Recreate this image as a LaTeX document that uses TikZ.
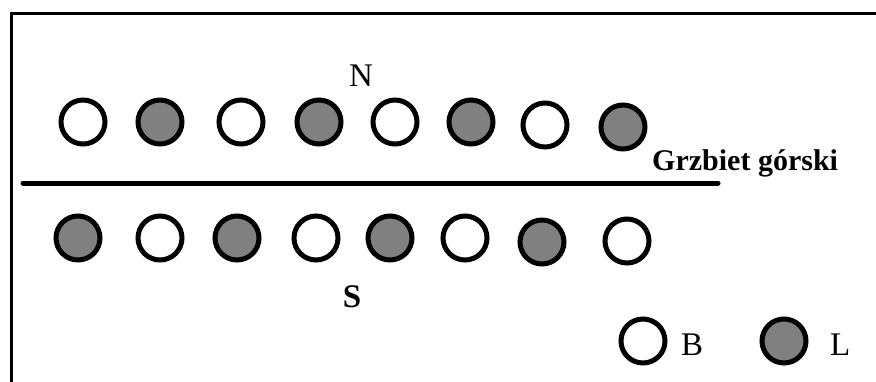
\documentclass[tikz,border=0pt]{standalone}
\usepackage{fontspec}
\setmainfont{Liberation Serif}
\definecolor{ballgray}{RGB}{128,128,128}
\begin{document}
\begin{tikzpicture}[x=1pt,y=-1pt,
  ball/.style={circle,draw=black,line width=5pt,minimum size=44pt,inner sep=0pt},
  wb/.style={ball,fill=white},
  lb/.style={ball,fill=ballgray},
  lbl/.style={inner sep=0pt,font=\fontsize{33}{33}\selectfont}]
\useasboundingbox (0,0) rectangle (876,381);
% frame
\draw[line width=3pt] (880,13) -- (11,13) -- (11,385);
% ridge line
\coordinate (rA) at (23,183);
\coordinate (rB) at (718,183);
\draw[line width=5pt,line cap=round] (rA) -- (rB);
% northern row
\node[wb] (n1) at (83,122) {};
\node[lb] (n2) at (160,122) {};
\node[wb] (n3) at (241,122) {};
\node[lb] (n4) at (319,122) {};
\node[wb] (n5) at (395,122) {};
\node[lb] (n6) at (471,122) {};
\node[wb] (n7) at (545,125) {};
\node[lb] (n8) at (623,127) {};
% southern row
\node[lb] (s1) at (78,238) {};
\node[wb] (s2) at (160,238) {};
\node[lb] (s3) at (237,238) {};
\node[wb] (s4) at (316,238) {};
\node[lb] (s5) at (390,238) {};
\node[wb] (s6) at (465,238) {};
\node[lb] (s7) at (542,242) {};
\node[wb] (s8) at (627,241) {};
% labels
\node[lbl,anchor=base] (N) at (361,86) {N};
\node[lbl,anchor=base,font=\fontsize{33}{33}\selectfont\bfseries] (S) at (352,307) {S};
\node[inner sep=0pt,anchor=base west,font=\fontsize{30}{30}\selectfont\bfseries] (ridge) at (652,170) {Grzbiet górski};
% legend
\node[wb] (kB) at (643,341) {};
\node[lbl,anchor=base west] (tB) at (681,355) {B};
\node[lb] (kL) at (784,341) {};
\node[lbl,anchor=base west] (tL) at (830,355) {L};
\end{tikzpicture}
\end{document}
